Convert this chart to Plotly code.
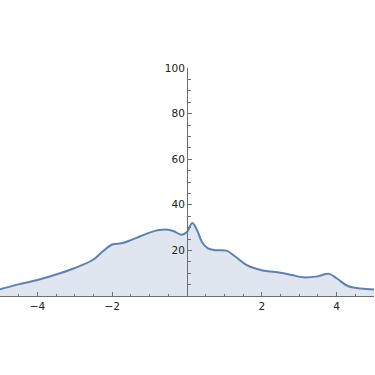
import plotly.graph_objects as go

x_vals = [-5.0, -4.5, -4.0, -3.5, -3.0, -2.5, -2.25, -2.0, -1.75, -1.5, -1.25, -1.0,
          -0.75, -0.5, -0.35, -0.15, 0.0, 0.14, 0.27, 0.4, 0.55, 0.75, 1.05, 1.3,
          1.6, 2.0, 2.5, 2.8, 3.1, 3.45, 3.8, 4.0, 4.3, 4.65, 5.0]
y_vals = [3.0, 5.1, 7.0, 9.4, 12.3, 16.0, 19.6, 22.6, 23.1, 24.5, 26.2, 27.8,
          28.9, 29.1, 28.4, 26.9, 28.1, 32.0, 28.8, 23.7, 21.0, 20.1, 19.9, 17.2,
          13.5, 11.3, 10.2, 9.2, 8.2, 8.5, 9.7, 7.8, 4.4, 3.3, 2.9]

x_ticks = [-4, -2, 2, 4]
y_ticks = [20, 40, 60, 80, 100]

axis_col = "#6e6e6e"
label_font = dict(family="DejaVu Sans", size=10.5, color="#222222")

fig = go.Figure()
fig.add_trace(go.Scatter(
    x=x_vals, y=y_vals, mode="lines",
    line=dict(color="#5E81B5", width=2, shape="spline", smoothing=1.0),
    fill="tozeroy", fillcolor="rgba(94,129,181,0.2)",
    hoverinfo="skip", showlegend=False,
))

fig.update_layout(
    width=375, height=375,
    margin=dict(l=0, r=1, t=68, b=79),
    paper_bgcolor="white", plot_bgcolor="white",
    xaxis=dict(
        range=[-5, 5], showgrid=False, zeroline=False,
        showline=True, linecolor=axis_col, linewidth=1,
        tickvals=x_ticks, ticktext=["\u22124", "\u22122", "2", "4"],
        ticks="inside", ticklen=4, tickcolor=axis_col, tickwidth=1,
        tickfont=label_font,
        minor=dict(dtick=0.5, tick0=0, ticks="inside", ticklen=2.5,
                   tickcolor=axis_col, tickwidth=1, showgrid=False),
    ),
    yaxis=dict(
        range=[0, 100], showgrid=False, zeroline=False,
        anchor="free", position=0.5,
        showline=True, linecolor=axis_col, linewidth=1,
        tickvals=y_ticks,
        ticks="inside", ticklen=4, tickcolor=axis_col, tickwidth=1,
        tickfont=label_font,
        minor=dict(dtick=5, tick0=0, ticks="inside", ticklen=2.5,
                   tickcolor=axis_col, tickwidth=1, showgrid=False),
    ),
)

fig.write_html("out.html")
